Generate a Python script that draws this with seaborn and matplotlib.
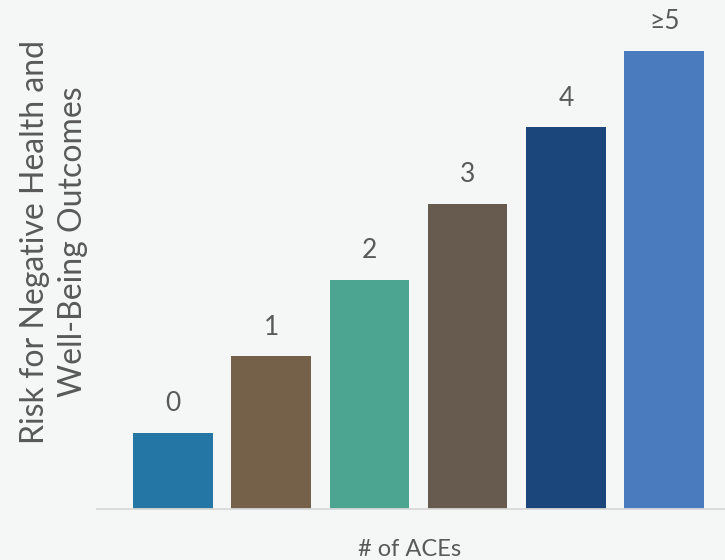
import matplotlib
matplotlib.use("Agg")
import matplotlib.pyplot as plt
import seaborn as sns
import pandas as pd

categories = ["0", "1", "2", "3", "4", "\u22655"]
values = [1.0, 2.0, 3.0, 4.0, 5.0, 6.0]
colors = ["#2477a5", "#75614a", "#4ba591", "#675a4e", "#1b467c", "#4a7bbe"]

df = pd.DataFrame({"aces": categories, "risk": values})

sns.set_theme(style="white")
plt.rcParams["font.family"] = ["Lato", "DejaVu Sans"]

bg = "#f5f7f7"
txt = "#595959"

fig = plt.figure(figsize=(7.25, 5.60), dpi=100, facecolor=bg)
ax = fig.add_axes([97 / 725, 51 / 560, 643 / 725, 481 / 560])
ax.set_facecolor(bg)

sns.barplot(data=df, x="aces", y="risk", hue="aces", palette=dict(zip(categories, colors)),
            legend=False, width=0.81, ax=ax, saturation=1, edgecolor="none")

ax.set_xlim(-0.77, 5.77)
ax.set_ylim(0, 6.3)

for i, (c, v) in enumerate(zip(categories, values)):
    ax.annotate(c, (i, v), xytext=(0, 12), textcoords="offset points",
                ha="center", va="bottom", fontsize=19, color=txt)

for s in ["top", "right", "left"]:
    ax.spines[s].set_visible(False)
ax.spines["bottom"].set_color("#d9d9d9")
ax.spines["bottom"].set_linewidth(1.3)
ax.set_xticks([])
ax.set_yticks([])

ax.set_xlabel("# of ACEs", fontsize=17, color=txt)
ax.xaxis.set_label_coords((410 - 97) / 643, -0.062)
ax.set_ylabel("")
fig.text(54 / 725, 1 - 242 / 560, "Risk for Negative Health and\nWell-Being Outcomes",
         rotation=90, ha="center", va="center", fontsize=23, color=txt,
         linespacing=1.3, multialignment="center")

fig.savefig("out.png", dpi=100, facecolor=bg)
